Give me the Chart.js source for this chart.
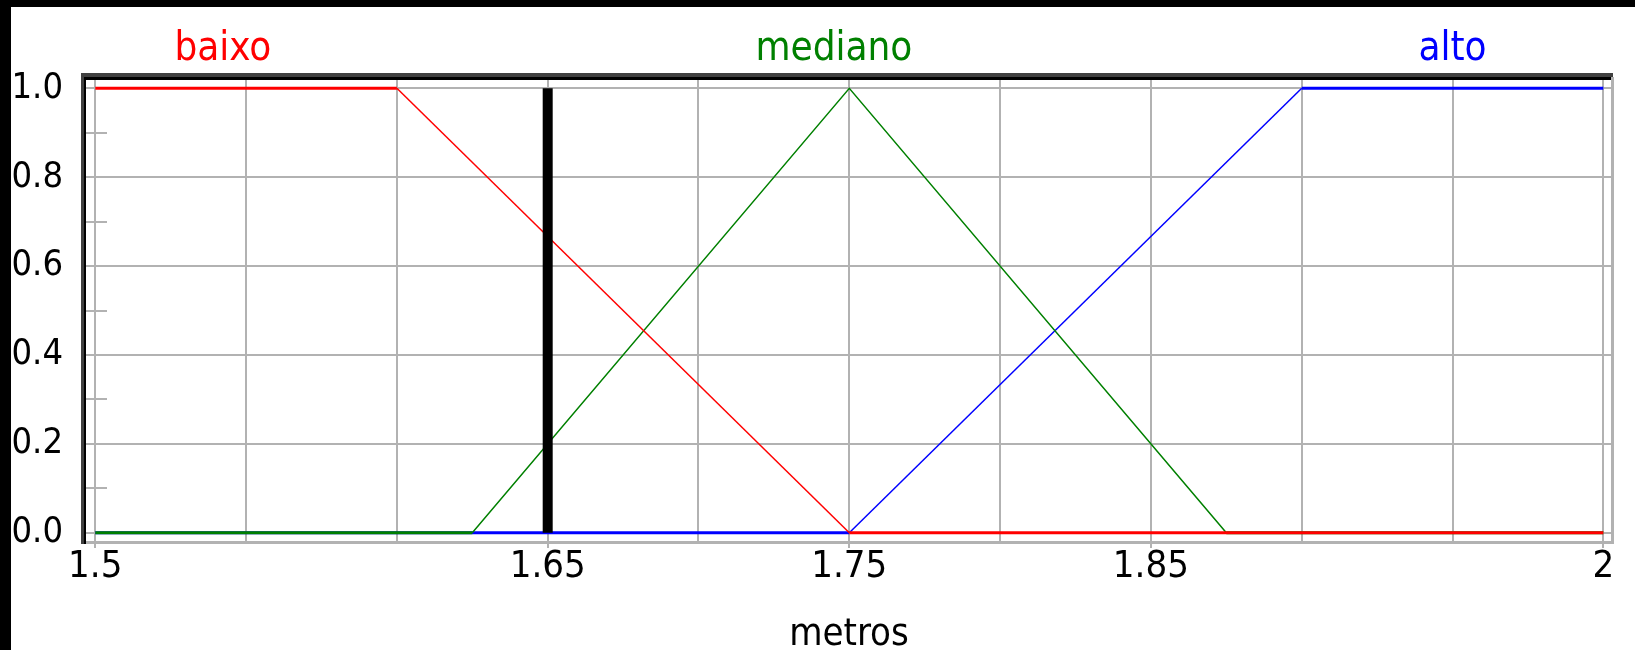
<!DOCTYPE html>
<html>
<head>
<meta charset="utf-8">
<script src="https://cdn.jsdelivr.net/npm/chart.js@4/dist/chart.umd.min.js"></script>
<style>
  html, body { margin: 0; padding: 0; background: #000; }
  canvas { display: block; }
</style>
</head>
<body>
<canvas id="myChart" width="1635" height="650"></canvas>
<script>
// funções de pertinência (altura em metros)
const seriesNames = ['baixo', 'mediano', 'alto'];
const seriesColors = ['#ff0000', '#008000', '#0000ff'];

const baixoX = [1.5, 1.6, 1.75, 2];
const baixoY = [1, 1, 0, 0];
const medianoX = [1.5, 1.625, 1.75, 1.875, 2];
const medianoY = [0, 0, 1, 0, 0];
const altoX = [1.5, 1.75, 1.9, 2];
const altoY = [0, 0, 1, 1];

// entrada atual (linha preta)
const entradaX = [1.65, 1.65];
const entradaY = [0, 1];

// posição dos nomes acima do gráfico (em metros)
const nomePos = [1.5423, 1.7449, 1.95];

// ticks
const xGrid = [1.5, 1.55, 1.6, 1.65, 1.7, 1.75, 1.8, 1.85, 1.9, 1.95, 2];
const xLabels = [1.5, 1.65, 1.75, 1.85, 2];
const yGrid = [0, 0.1, 0.2, 0.3, 0.4, 0.5, 0.6, 0.7, 0.8, 0.9, 1];
const yLabels = [0, 0.2, 0.4, 0.6, 0.8, 1];

const GRAY = '#b2b2b2';
const FONT = "'Liberation Sans Narrow', 'DejaVu Sans Condensed', 'Liberation Sans', sans-serif";

const pts = (xs, ys) => xs.map((x, i) => ({ x: x, y: ys[i] }));
const segWidth = ctx => (ctx.p0.parsed.y === ctx.p1.parsed.y ? 3 : 1.5);

function serie(i, xs, ys) {
    return {
        label: seriesNames[i],
        data: pts(xs, ys),
        borderColor: seriesColors[i],
        borderWidth: 3,
        pointRadius: 0,
        tension: 0,
        segment: { borderWidth: segWidth }
    };
}

// fundo, moldura, marcas menores e nomes
const moldura = {
    id: 'moldura',
    beforeDraw(chart) {
        const c = chart.ctx;
        c.save();
        c.fillStyle = '#000';
        c.fillRect(0, 0, chart.width, chart.height);
        c.fillStyle = '#fff';
        c.fillRect(11, 7, chart.width - 11, chart.height - 7);
        c.restore();
    },
    beforeDatasetsDraw(chart) {
        const c = chart.ctx;
        const a = chart.chartArea;
        const y = chart.scales.y;
        c.save();
        c.strokeStyle = GRAY;
        c.lineWidth = 2;
        yGrid.forEach(v => {
            if (yLabels.includes(v)) return;
            const py = Math.round(y.getPixelForValue(v));
            c.beginPath();
            c.moveTo(a.left, py);
            c.lineTo(a.left + 21, py);
            c.stroke();
        });
        c.restore();
    },
    afterDraw(chart) {
        const c = chart.ctx;
        const a = chart.chartArea;
        const x = chart.scales.x;
        c.save();
        // borda afundada
        c.fillStyle = '#404040';
        c.fillRect(a.left - 5, a.top - 7, a.right - a.left + 6, 4);
        c.fillRect(a.left - 5, a.top - 7, 3, a.bottom - a.top + 9);
        c.fillStyle = '#000';
        c.fillRect(a.left - 2, a.top - 3, a.right - a.left + 2, 3);
        c.fillRect(a.left - 2, a.top - 3, 2, a.bottom - a.top + 5);
        c.fillStyle = GRAY;
        c.fillRect(a.left, a.bottom - 1, a.right - a.left + 2, 3);
        c.fillRect(a.right - 1, a.top - 3, 3, a.bottom - a.top + 5);
        // nomes
        c.font = '40px ' + FONT;
        c.textAlign = 'center';
        c.textBaseline = 'alphabetic';
        seriesNames.forEach((n, i) => {
            c.fillStyle = seriesColors[i];
            c.fillText(n, x.getPixelForValue(nomePos[i]), 60);
        });
        c.restore();
    }
};

Chart.defaults.font.family = FONT;
Chart.defaults.font.size = 40;
Chart.defaults.color = '#000';

const ctx = document.getElementById('myChart').getContext('2d');
const myChart = new Chart(ctx, {
    type: 'line',
    data: {
        datasets: [
            {
                label: 'entrada',
                data: pts(entradaX, entradaY),
                borderColor: '#000',
                borderWidth: 10,
                borderCapStyle: 'butt',
                pointRadius: 0
            },
            serie(0, baixoX, baixoY),
            serie(1, medianoX, medianoY),
            serie(2, altoX, altoY)
        ]
    },
    options: {
        responsive: false,
        animation: false,
        maintainAspectRatio: false,
        layout: { padding: { top: 80, right: 23, left: 0, bottom: 0 } },
        plugins: {
            legend: { display: false },
            tooltip: { enabled: false }
        },
        scales: {
            x: {
                type: 'linear',
                min: 1.49692,
                max: 2.00288,
                afterBuildTicks: s => { s.ticks = xGrid.map(v => ({ value: v })); },
                afterFit: s => { s.height = 108; },
                border: { display: false },
                grid: {
                    color: GRAY,
                    lineWidth: 2,
                    drawTicks: true,
                    tickLength: 6,
                    tickColor: c => (c.tick && xLabels.includes(c.tick.value) ? GRAY : 'rgba(0,0,0,0)')
                },
                ticks: {
                    autoSkip: false,
                    maxRotation: 0,
                    padding: 0,
                    font: { size: 38, lineHeight: 1 },
                    callback: v => (xLabels.includes(v) ? String(v) : '')
                },
                title: {
                    display: true,
                    text: 'metros',
                    font: { size: 38, lineHeight: 1 },
                    padding: { top: 0, bottom: -4 }
                }
            },
            y: {
                min: -0.02093,
                max: 1.01868,
                afterBuildTicks: s => { s.ticks = yGrid.map(v => ({ value: v })); },
                afterFit: s => { s.width = 86; },
                border: { display: false },
                grid: {
                    color: c => (c.tick && yLabels.includes(c.tick.value) ? GRAY : 'rgba(0,0,0,0)'),
                    lineWidth: 2,
                    drawTicks: false
                },
                ticks: {
                    padding: 23,
                    font: { size: 36, lineHeight: 1 },
                    callback: v => (yLabels.includes(v) ? v.toFixed(1) : '')
                }
            }
        }
    },
    plugins: [moldura]
});
</script>
</body>
</html>
